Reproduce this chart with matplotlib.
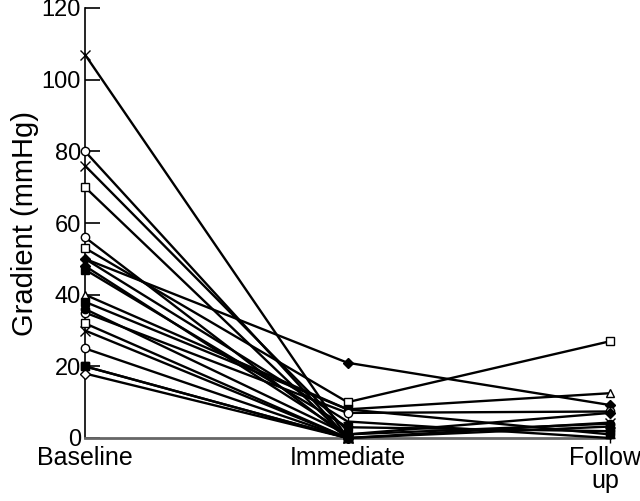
import matplotlib
matplotlib.use("Agg")
import matplotlib.pyplot as plt
import matplotlib.transforms as mtrans
import numpy as np

plt.rcParams['font.family'] = ['Liberation Sans', 'DejaVu Sans']

categories = ["Baseline", "Immediate", "Follow\nup"]

baseline  = [107, 80, 76, 70, 56, 53, 50, 47, 40, 38, 35, 32, 30, 25, 20, 18, 50, 48, 20, 36]
immediate = [0, 0, 2, 0, 0, 10, 21, 3, 8, 8, 7, 0, 0, 0, 0, 0, 4.6, 1, 0, 1]
followup  = [np.nan, np.nan, np.nan, np.nan, np.nan, 27, 9.2, 1.9, 12.5, 1, 7.4, np.nan,
             4.3, np.nan, 3.2, np.nan, 0, 7, np.nan, 4]
markers   = ['x', 'o', 'x', 's', 'o', 's', 'D', 's', '^', 's', 'o', 's', 'x', 'o', 's', 'D', '+', 'D', 's', 'o']
filled    = [True, False, True, False, False, False, True, True, False, True, False, False,
             True, False, True, False, True, True, True, True]

fig = plt.figure(figsize=(6.4, 5.01), dpi=100)
ax = fig.add_axes([85/640, 63/501, (610-85)/640, (438-8)/501])

xs = np.arange(len(categories))
for b, i, f, m, fl in zip(baseline, immediate, followup, markers, filled):
    ys = [b, i, f]
    ms = 6 if m not in ('x', '+') else 7
    ax.plot(xs, ys, color='black', lw=1.7, marker=m, markersize=ms if m != 'D' else 5,
            markerfacecolor=('black' if fl else 'white'), markeredgecolor='black',
            markeredgewidth=1.0, clip_on=False, zorder=3)

ax.set_xlim(0, 2)
ax.set_ylim(0, 120)
ax.set_yticks(np.arange(0, 121, 20))
ax.set_xticks(xs)
ax.set_xticklabels(categories, fontsize=18, linespacing=0.95)
ax.tick_params(axis='x', length=0, pad=6)
ax.tick_params(axis='y', direction='in', length=11, width=1.2, labelsize=17, pad=3)
ax.set_ylabel("Gradient (mmHg)", fontsize=21, labelpad=2)

lbl = ax.get_xticklabels()[-1]
lbl.set_transform(lbl.get_transform() + mtrans.ScaledTranslation(-5/100, 0, fig.dpi_scale_trans))

for s in ['top', 'right']:
    ax.spines[s].set_visible(False)
ax.spines['left'].set_linewidth(1.2)
ax.spines['bottom'].set_color('#666666')
ax.spines['bottom'].set_linewidth(2)

fig.savefig("out.png", dpi=100)
